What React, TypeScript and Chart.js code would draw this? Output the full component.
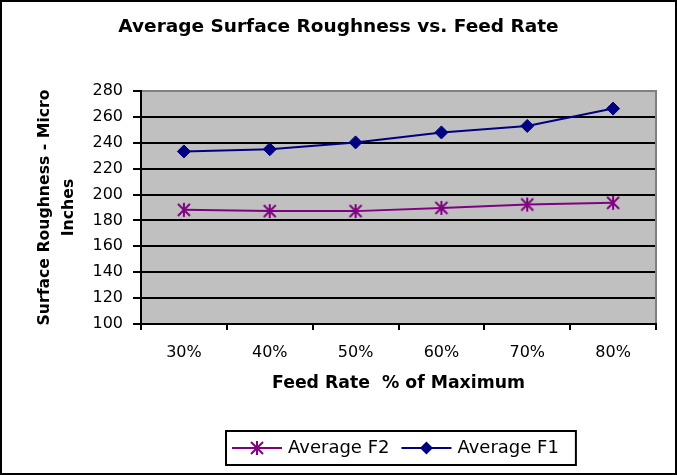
import React, { useEffect, useRef } from "react";
import { Chart, registerables } from "chart.js";

Chart.register(...registerables);

// ---- data ----
const categories = ["30%", "40%", "50%", "60%", "70%", "80%"];
const averageF2 = [188.2, 187.2, 187.2, 189.7, 192.3, 193.6];
const averageF1 = [233.3, 235.0, 240.3, 248.0, 253.0, 266.4];
const seriesLabels = ["Average F2", "Average F1"];
const yMin = 100;
const yMax = 280;
const yStep = 20;
const chartTitle = "Average Surface Roughness vs. Feed Rate";
const xAxisTitle = "Feed Rate  % of Maximum";
const yAxisTitle = ["Surface Roughness - Micro", "Inches"];

const FONT = '"DejaVu Sans", Verdana, sans-serif';
const NAVY = "#000080";
const PURPLE = "#800080";

function makeStar(color: string): HTMLCanvasElement {
  const size = 16;
  const c = document.createElement("canvas");
  c.width = size;
  c.height = size;
  const g = c.getContext("2d")!;
  g.strokeStyle = color;
  g.lineWidth = 2;
  const m = size / 2;
  const r = 7;
  const d = 6;
  g.beginPath();
  g.moveTo(m, m - r);
  g.lineTo(m, m + r);
  g.moveTo(m - d, m - d);
  g.lineTo(m + d, m + d);
  g.moveTo(m + d, m - d);
  g.lineTo(m - d, m + d);
  g.stroke();
  return c;
}

function drawDiamond(ctx: CanvasRenderingContext2D, x: number, y: number, r: number, color: string) {
  ctx.beginPath();
  ctx.moveTo(x, y - r);
  ctx.lineTo(x + r, y);
  ctx.lineTo(x, y + r);
  ctx.lineTo(x - r, y);
  ctx.closePath();
  ctx.fillStyle = color;
  ctx.fill();
}

export default function App() {
  const ref = useRef<HTMLCanvasElement | null>(null);

  useEffect(() => {
    document.body.style.margin = "0";
    const canvas = ref.current;
    if (!canvas) return;
    const star = makeStar(PURPLE);

    const framePlugin = {
      id: "frame",
      beforeDraw(chart: any) {
        const { ctx, chartArea } = chart;
        const { left, top, right, bottom } = chartArea;
        ctx.save();
        ctx.fillStyle = "#ffffff";
        ctx.fillRect(0, 0, chart.width, chart.height);
        ctx.fillStyle = "#C0C0C0";
        ctx.fillRect(left, top, right - left, bottom - top);
        ctx.strokeStyle = "#000";
        ctx.lineWidth = 2;
        ctx.strokeRect(1, 1, chart.width - 2, chart.height - 2);
        ctx.fillStyle = "#000";
        ctx.font = `bold 18.5px ${FONT}`;
        ctx.textAlign = "center";
        ctx.textBaseline = "middle";
        ctx.fillText(chartTitle, chart.width / 2, 27.5);
        ctx.restore();
      },
      beforeDatasetsDraw(chart: any) {
        const { ctx, chartArea } = chart;
        const { left, top, right, bottom } = chartArea;
        ctx.save();
        ctx.strokeStyle = "#808080";
        ctx.lineWidth = 2;
        ctx.beginPath();
        ctx.moveTo(left + 1, top);
        ctx.lineTo(right, top);
        ctx.lineTo(right, bottom - 1);
        ctx.stroke();
        ctx.restore();
      },
      afterDraw(chart: any) {
        const { ctx } = chart;
        const ds = chart.data.datasets;
        ctx.save();
        ctx.font = `18px ${FONT}`;
        const lineW = 50;
        const gapA = 6;
        const gapB = 12;
        const widths = ds.map((d: any) => ctx.measureText(d.label).width);
        let total = 0;
        widths.forEach((w: number, i: number) => {
          total += lineW + gapA + w + (i > 0 ? gapB : 0);
        });
        const boxW = total + 23;
        const boxLeft = Math.round(401 - boxW / 2);
        const boxTop = 431;
        const boxH = 34;
        ctx.strokeStyle = "#000";
        ctx.lineWidth = 2;
        ctx.strokeRect(boxLeft, boxTop, boxW, boxH);
        let x = boxLeft + 6;
        const cy = boxTop + boxH / 2;
        ds.forEach((d: any, i: number) => {
          if (i > 0) x += gapB;
          ctx.strokeStyle = d.borderColor;
          ctx.lineWidth = 2;
          ctx.beginPath();
          ctx.moveTo(x, cy);
          ctx.lineTo(x + lineW, cy);
          ctx.stroke();
          const mx = x + lineW / 2;
          if (d.pointStyle === "rectRot") {
            drawDiamond(ctx, mx, cy, 6.5, d.borderColor);
          } else {
            ctx.drawImage(star, mx - star.width / 2, cy - star.height / 2);
          }
          x += lineW + gapA;
          ctx.fillStyle = "#000";
          ctx.textAlign = "left";
          ctx.textBaseline = "middle";
          ctx.fillText(d.label, x, cy);
          x += widths[i];
        });
        ctx.restore();
      },
    };

    const chart = new Chart(canvas, {
      type: "line",
      data: {
        labels: categories,
        datasets: [
          {
            label: seriesLabels[0],
            data: averageF2,
            borderColor: PURPLE,
            backgroundColor: PURPLE,
            borderWidth: 2,
            pointStyle: star as any,
            pointRadius: 7,
            tension: 0,
          },
          {
            label: seriesLabels[1],
            data: averageF1,
            borderColor: NAVY,
            backgroundColor: NAVY,
            borderWidth: 2,
            pointStyle: "rectRot",
            pointRadius: 6.5,
            pointBorderWidth: 1,
            tension: 0,
          },
        ],
      },
      options: {
        responsive: false,
        animation: false,
        devicePixelRatio: 1,
        layout: { padding: { left: 0, right: 21, top: 91, bottom: 81 } },
        plugins: {
          legend: { display: false },
          title: { display: false },
          tooltip: { enabled: false },
        },
        scales: {
          x: {
            type: "category",
            offset: true,
            grid: {
              display: true,
              drawOnChartArea: false,
              drawTicks: true,
              tickLength: 6,
              offset: true,
              color: "#000",
              lineWidth: 2,
            },
            border: { display: true, color: "#000", width: 2 },
            ticks: {
              color: "#000",
              font: { family: FONT, size: 16 },
              padding: 13,
              maxRotation: 0,
              autoSkip: false,
            },
            title: {
              display: true,
              text: xAxisTitle,
              color: "#000",
              font: { family: FONT, size: 17.3, weight: "bold" },
              padding: { top: 0, bottom: 0 },
            },
            afterFit: (s: any) => {
              s.height = 70;
            },
          },
          y: {
            min: yMin,
            max: yMax,
            ticks: {
              stepSize: yStep,
              color: "#000",
              font: { family: FONT, size: 16 },
              padding: 10,
            },
            grid: { color: "#000", lineWidth: 2, tickLength: 8 },
            border: { display: true, color: "#000", width: 2 },
            title: {
              display: true,
              text: yAxisTitle,
              color: "#000",
              font: { family: FONT, size: 15.7, weight: "bold", lineHeight: "24px" },
              padding: { top: 33, bottom: 0 },
            },
            afterFit: (s: any) => {
              s.width = 141;
            },
          },
        },
      },
      plugins: [framePlugin],
    } as any);

    return () => chart.destroy();
  }, []);

  return (
    <div style={{ width: 677, height: 475 }}>
      <canvas ref={ref} width={677} height={475} style={{ display: "block" }} />
    </div>
  );
}
